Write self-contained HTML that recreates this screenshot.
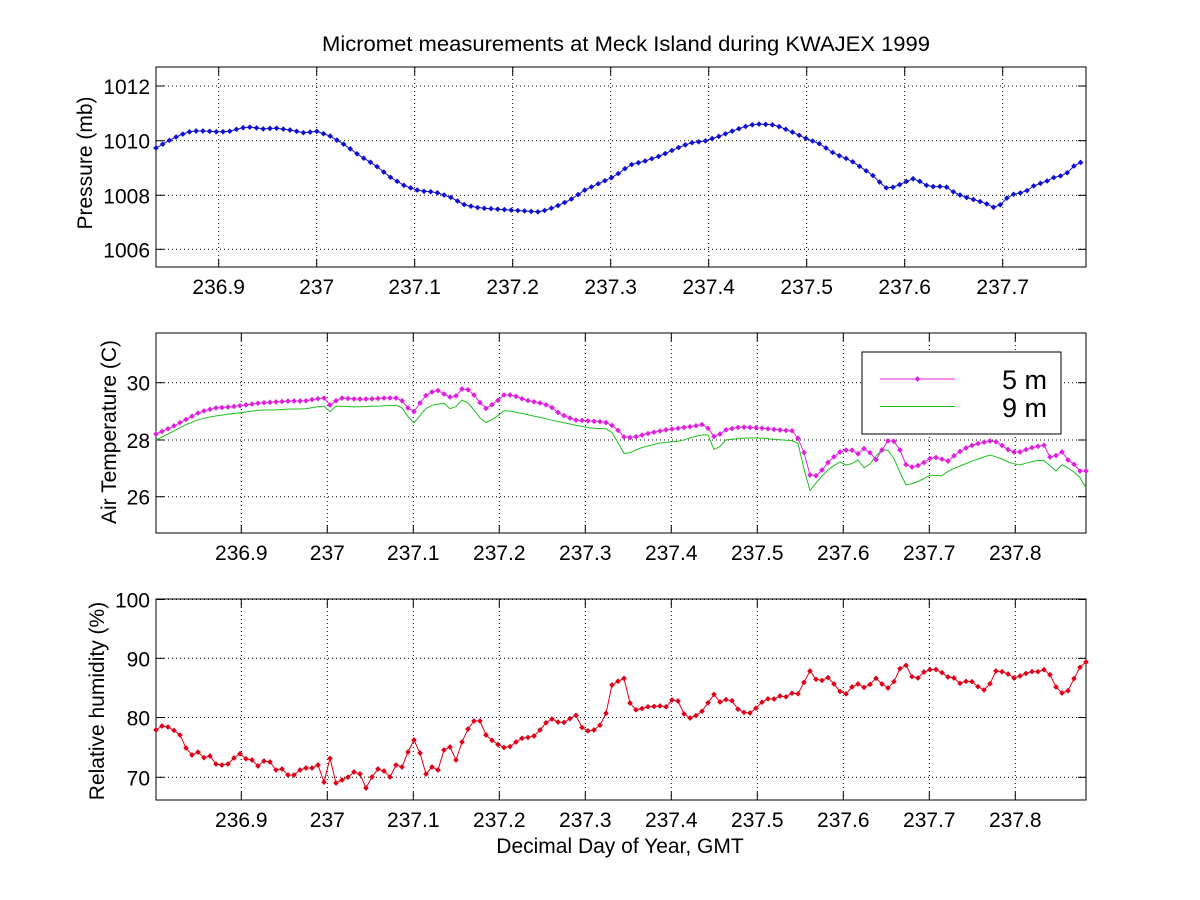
<!DOCTYPE html>
<html><head><meta charset="utf-8"><style>
html,body{margin:0;padding:0;background:#fff}
svg{display:block;font-family:"Liberation Sans",Arial,sans-serif}
</style></head><body>
<svg id="s" width="1200" height="900" xmlns="http://www.w3.org/2000/svg">
<rect width="1200" height="900" fill="#fff"/>
<text x="626" y="51" font-size="21" text-anchor="middle" textLength="608" lengthAdjust="spacingAndGlyphs">Micromet measurements at Meck Island during KWAJEX 1999</text>
<text x="620" y="853" font-size="21" text-anchor="middle">Decimal Day of Year, GMT</text>
<text transform="translate(92,163) rotate(-90)" font-size="21" text-anchor="middle">Pressure (mb)</text>
<text transform="translate(116,432) rotate(-90)" font-size="21" text-anchor="middle">Air Temperature (C)</text>
<text transform="translate(104,701) rotate(-90)" font-size="21" text-anchor="middle">Relative humidity (%)</text>
<g id="g"></g>
</svg>
<script>
var g=document.getElementById('g'),h='';
var L=156,R=1086;
function axes(top,bot,xt,yt){
  xt.forEach(function(t){h+='<line x1="'+t[0]+'" y1="'+top+'" x2="'+t[0]+'" y2="'+bot+'" stroke="#000" stroke-width="1" stroke-dasharray="1,3"/>';
    h+='<line x1="'+t[0]+'" y1="'+bot+'" x2="'+t[0]+'" y2="'+(bot-8)+'" stroke="#000"/><line x1="'+t[0]+'" y1="'+top+'" x2="'+t[0]+'" y2="'+(top+8)+'" stroke="#000"/>';
    h+='<text x="'+t[0]+'" y="'+(bot+27)+'" font-size="21" text-anchor="middle">'+t[1]+'</text>';});
  yt.forEach(function(t){h+='<line x1="'+L+'" y1="'+t[0]+'" x2="'+R+'" y2="'+t[0]+'" stroke="#000" stroke-dasharray="1,3"/>';
    h+='<line x1="'+L+'" y1="'+t[0]+'" x2="'+(L+8)+'" y2="'+t[0]+'" stroke="#000"/><line x1="'+R+'" y1="'+t[0]+'" x2="'+(R-8)+'" y2="'+t[0]+'" stroke="#000"/>';
    h+='<text x="'+(L-6)+'" y="'+(t[0]+8)+'" font-size="21" text-anchor="end">'+t[1]+'</text>';});
  h+='<rect x="'+L+'" y="'+top+'" width="'+(R-L)+'" height="'+(bot-top)+'" fill="none" stroke="#000" stroke-width="1"/>';
}
function interp(p,step){var o=[];for(var x=p[0][0];x<=p[p.length-1][0]+0.01;x+=step){var i=0;while(i<p.length-2&&p[i+1][0]<x)i++;var a=p[i],b=p[i+1];var t=(x-a[0])/(b[0]-a[0]);o.push([x,a[1]+(b[1]-a[1])*t]);}return o;}
function series(p,step,col,mk,sw){var q=interp(p,step);h+='<polyline fill="none" stroke="'+col+'" stroke-width="'+(sw||1)+'" points="'+q.map(function(a){return a[0].toFixed(1)+','+a[1].toFixed(1)}).join(' ')+'"/>';
  if(mk)q.forEach(function(a){h+='<rect x="'+(a[0]-2)+'" y="'+(a[1]-2)+'" width="4" height="4" fill="'+col+'" transform="rotate(45 '+a[0]+' '+a[1]+')"/>';});}
function xt(a0,sp,labs){return labs.map(function(l,i){return [a0+i*sp,l];});}
axes(67,267,xt(218.7,98,['236.9','237','237.1','237.2','237.3','237.4','237.5','237.6','237.7']),[[86,'1012'],[140.7,'1010'],[195.3,'1008'],[249.3,'1006']]);
series([[156,148],[170,140],[180,135],[192,131],[205,131],[220,132],[232,131],[240,128],[252,127],[262,129],[275,128],[290,130],[305,133],[316,131],[330,136],[345,145],[360,156],[375,165],[390,177],[405,186],[420,191],[435,192],[450,197],[465,205],[480,208],[495,209],[510,210],[525,211],[540,212],[555,207],[570,200],[585,190],[600,183],[615,176],[630,165],[645,161],[660,156],[675,149],[690,143],[705,141],[720,136],[735,130],[750,125],[760,124],[775,125],[790,131],[805,138],[820,144],[835,154],[850,160],[865,170],[875,177],[885,188],[895,187],[905,182],[915,178],[925,185],[935,187],[945,186],[955,193],[965,197],[975,200],[985,203],[995,208],[1000,205],[1010,195],[1025,192],[1035,185],[1045,182],[1055,177],[1065,175],[1075,165],[1086,160]],6.7,'#1010d0',true);
axes(333,533,xt(241.3,86,['236.9','237','237.1','237.2','237.3','237.4','237.5','237.6','237.7','237.8']),[[382.7,'30'],[440,'28'],[496.7,'26']]);
series([[156,440],[170,433],[185,425],[200,419],[215,416],[230,414],[245,412],[260,410],[275,410],[290,409],[305,409],[315,407],[325,406],[328,414],[335,406],[355,407],[380,406],[400,405],[413,424],[428,406],[445,403],[452,411],[462,400],[470,404],[478,416],[485,423],[495,418],[505,410],[525,414],[560,422],[590,428],[610,429],[625,455],[640,448],[660,443],[680,441],[700,435],[710,435],[715,453],[725,440],[745,438],[760,438],[795,441],[800,445],[808,493],[820,478],[830,468],[840,462],[848,466],[858,460],[865,469],[872,462],[880,450],[887,449],[895,460],[905,485],[915,483],[925,478],[932,474],[940,477],[950,470],[960,466],[975,460],[990,455],[1000,458],[1010,463],[1020,465],[1030,462],[1040,460],[1048,461],[1053,473],[1060,468],[1063,463],[1070,470],[1078,474],[1086,488]],6,'#20c020',false);
series([[156,434],[170,428],[185,420],[200,412],[215,408],[230,407],[245,405],[260,403],[275,402],[290,401],[305,401],[315,399],[325,398],[330,405],[340,398],[355,399],[370,399],[385,398],[400,398],[405,405],[413,413],[420,403],[428,393],[440,390],[447,397],[455,397],[462,389],[470,390],[478,400],[485,409],[495,403],[505,394],[515,396],[525,400],[540,403],[550,406],[560,414],[575,420],[590,421],[605,422],[615,427],[625,438],[635,437],[650,433],[665,430],[680,428],[695,426],[705,424],[710,431],[715,438],[725,430],[740,427],[760,428],[780,430],[795,431],[805,455],[810,475],[818,476],[822,470],[830,460],[840,452],[850,449],[860,455],[865,447],[872,455],[878,462],[882,450],[887,441],[893,440],[900,450],[907,467],[915,467],[925,462],[932,457],[940,458],[947,462],[955,455],[962,450],[970,446],[980,443],[990,441],[998,442],[1005,448],[1013,452],[1020,452],[1030,448],[1040,446],[1045,445],[1050,457],[1058,455],[1062,452],[1068,460],[1075,465],[1080,471],[1086,471]],6,'#e020e0',true);
h+='<rect x="862" y="352" width="199" height="82" fill="#fff" stroke="#000"/>';
h+='<line x1="880" y1="379" x2="955" y2="379" stroke="#e020e0"/><rect x="915.5" y="377" width="4" height="4" fill="#e020e0" transform="rotate(45 917.5 379)"/>';
h+='<line x1="880" y1="406.5" x2="955" y2="406.5" stroke="#20c020"/>';
h+='<text x="1047" y="389" font-size="27" text-anchor="end">5 m</text><text x="1047" y="417" font-size="27" text-anchor="end">9 m</text>';
axes(599,800,xt(241.3,86,['236.9','237','237.1','237.2','237.3','237.4','237.5','237.6','237.7','237.8']),[[599.5,'100'],[658.3,'90'],[717.5,'80'],[777.3,'70']]);
series([[156,730],[162,726],[168,727],[175,731],[180,735],[186,748],[192,755],[197,751],[203,758],[210,756],[216,764],[222,765],[228,764],[234,758],[241,753],[247,760],[252,760],[258,766],[264,761],[270,762],[276,770],[282,769],[288,775],[295,775],[300,770],[306,768],[312,768],[318,765],[325,785],[331,753],[336,783],[342,780],[347,778],[354,772],[360,774],[366,788],[372,777],[378,769],[384,771],[390,777],[396,765],[402,767],[408,752],[414,740],[420,753],[426,774],[432,767],[438,770],[444,750],[450,747],[456,760],[462,742],[468,729],[474,721],[480,721],[486,735],[495,743],[505,748],[512,746],[518,740],[525,737],[532,738],[540,730],[550,718],[560,723],[567,722],[575,713],[581,727],[590,732],[598,728],[605,718],[612,685],[620,680],[625,678],[630,703],[637,711],[645,707],[660,706],[665,708],[672,700],[678,701],[685,716],[690,718],[700,714],[710,700],[715,693],[720,702],[730,698],[740,712],[750,713],[760,705],[765,698],[772,700],[780,696],[785,698],[790,692],[795,695],[800,693],[806,677],[812,668],[818,685],[825,677],[830,678],[838,690],[845,695],[852,687],[858,684],[865,688],[872,683],[878,676],[884,688],[890,688],[895,680],[902,664],[908,666],[914,682],[920,676],[925,671],[932,669],[940,670],[946,678],[952,675],[958,684],[964,682],[970,680],[976,685],[982,690],[988,690],[994,671],[1000,671],[1008,674],[1014,678],[1020,676],[1027,673],[1034,671],[1040,672],[1047,668],[1055,686],[1062,693],[1070,690],[1077,670],[1086,662]],6,'#e00018',true);
g.innerHTML=h;
</script>
</body></html>
